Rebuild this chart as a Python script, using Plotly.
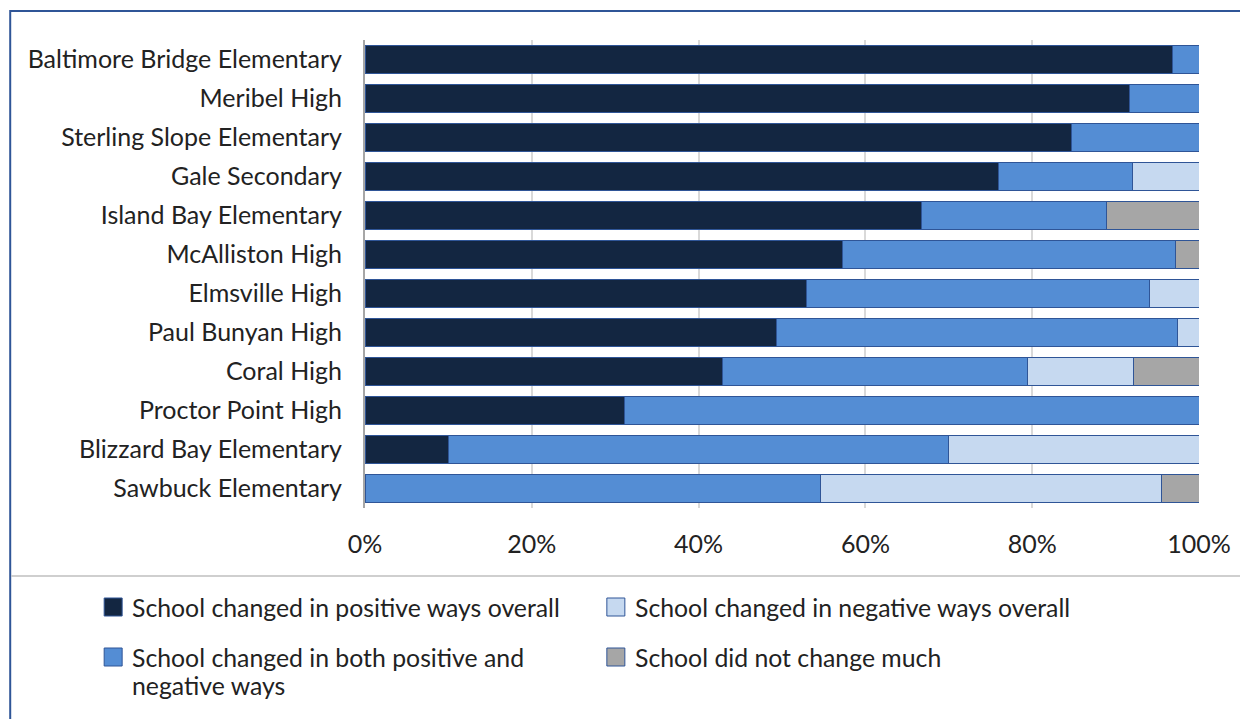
import plotly.graph_objects as go

schools = ["Baltimore Bridge Elementary", "Meribel High", "Sterling Slope Elementary",
           "Gale Secondary", "Island Bay Elementary", "McAlliston High", "Elmsville High",
           "Paul Bunyan High", "Coral High", "Proctor Point High", "Blizzard Bay Elementary",
           "Sawbuck Elementary"]
positive = [96.8, 91.7, 84.7, 76.0, 66.7, 57.2, 52.9, 49.3, 42.9, 31.1, 10.0, 0.0]
both = [3.2, 8.3, 15.3, 16.0, 22.2, 40.0, 41.2, 48.1, 36.5, 68.9, 60.0, 54.6]
negative = [0.0, 0.0, 0.0, 8.0, 0.0, 0.0, 5.9, 2.6, 12.8, 0.0, 30.0, 40.9]
no_change = [0.0, 0.0, 0.0, 0.0, 11.1, 2.8, 0.0, 0.0, 7.8, 0.0, 0.0, 4.5]

series_names = ["School changed in positive ways overall",
                "School changed in both positive and<br>negative ways",
                "School changed in negative ways overall",
                "School did not change much"]
series_vals = [positive, both, negative, no_change]
series_colors = ["#132641", "#548DD4", "#C6D9F0", "#A6A6A6"]
x_ticks = [0, 20, 40, 60, 80, 100]
x_tick_text = ["0%", "20%", "40%", "60%", "80%", "100%"]

FONT = "Lato, Carlito, Calibri, sans-serif"
OFF = 8  # page body margin
W, H = 1248 - OFF, 719 - OFF
# target pixel positions in the screenshot
PL, PR, PT, PB = 365, 1199.5, 40, 508
L = PL - OFF
R = W - (PR - OFF)
T = PT - OFF
B = H - (PB - OFF)
PW = W - L - R
PH = H - T - B

def px(x):
    return (x - OFF - L) / PW

def py(y):
    return (H - B - (y - OFF)) / PH

fig = go.Figure()
for name, vals, col in zip(series_names, series_vals, series_colors):
    fig.add_trace(go.Bar(
        y=schools, x=vals, name=name.replace("<br>", " "), orientation="h",
        marker=dict(color=col, line=dict(color="#2F5597", width=1)),
        showlegend=False,
    ))

fig.update_layout(
    width=W, height=H,
    barmode="stack", bargap=0.3,
    margin=dict(l=L, r=R, t=T, b=B, autoexpand=False),
    paper_bgcolor="white", plot_bgcolor="white",
    font=dict(family=FONT, size=25, color="#222222"),
    xaxis=dict(range=[0, 100], tickmode="array", tickvals=x_ticks, ticktext=x_tick_text,
               showgrid=True, gridcolor="#D9D9D9", gridwidth=2,
               zeroline=False, showline=False, ticks="",
               ticklabelstandoff=19, fixedrange=True),
    yaxis=dict(autorange="reversed", showline=True, linecolor="#A6A6A6", linewidth=2,
               ticks="", showgrid=False, ticklabelstandoff=16, fixedrange=True),
)

# outer frame and separator
fig.add_shape(type="rect", xref="paper", yref="paper",
              x0=px(10), x1=px(1270), y0=py(760), y1=py(11),
              line=dict(color="#2F5597", width=2), fillcolor="rgba(0,0,0,0)", layer="below")
fig.add_shape(type="line", xref="paper", yref="paper",
              x0=px(11), x1=px(1270), y0=py(576), y1=py(576),
              line=dict(color="#BFBFBF", width=1.5))

# legend (manual, two columns)
legend_pos = [(0, 104, 607), (1, 104, 657), (2, 607, 607), (3, 607, 657)]
for idx, sx, sy in legend_pos:
    fig.add_shape(type="rect", xref="paper", yref="paper",
                  x0=px(sx), x1=px(sx + 18), y0=py(sy + 9), y1=py(sy - 9),
                  fillcolor=series_colors[idx], line=dict(color="#2F5597", width=1))
    for k, line in enumerate(series_names[idx].split("<br>")):
        fig.add_annotation(xref="paper", yref="paper", x=px(sx + 26), y=py(sy + 28 * k),
                           xanchor="left", yanchor="middle", align="left", showarrow=False,
                           text=line, font=dict(family=FONT, size=24.8, color="#222222"))

fig.write_html("out.html")
